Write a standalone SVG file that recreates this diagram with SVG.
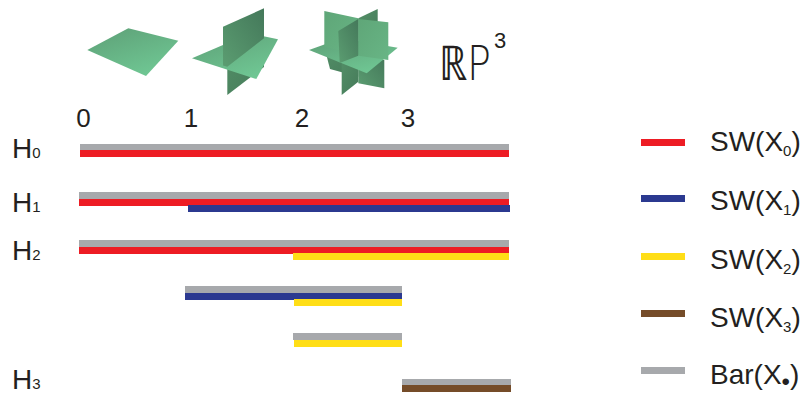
<svg xmlns="http://www.w3.org/2000/svg" width="803" height="394" viewBox="0 0 803 394">
  <style>
    text { font-family: "Liberation Sans", Arial, sans-serif; fill: #231f20; }
    .tick { font-size: 26px; text-anchor: middle; }
    .hlab { font-size: 28px; }
    .sub { font-size: 15px; }
    .leg { font-size: 28px; }
    .gray { fill: #a7a9ac; }
    .red { fill: #ed1c24; }
    .blue { fill: #2b3990; }
    .yellow { fill: #ffde17; }
    .brown { fill: #754c29; }
  </style>
  <defs>
    <linearGradient id="flat" x1="0" y1="0" x2="0.6" y2="1">
      <stop offset="0" stop-color="#5d9f76"/>
      <stop offset="1" stop-color="#6fc693"/>
    </linearGradient>
    <linearGradient id="wall" x1="0" y1="1" x2="1" y2="0">
      <stop offset="0" stop-color="#5b9d71"/>
      <stop offset="1" stop-color="#44785a"/>
    </linearGradient>
    <linearGradient id="wallLight" x1="0" y1="0" x2="1" y2="1">
      <stop offset="0" stop-color="#5fa678"/>
      <stop offset="1" stop-color="#68b585"/>
    </linearGradient>
    <linearGradient id="wallDark" x1="0" y1="0" x2="1" y2="1">
      <stop offset="0" stop-color="#538f67"/>
      <stop offset="1" stop-color="#467b5a"/>
    </linearGradient>
  </defs>

  <!-- one plane -->
  <g id="plane-one">
    <polygon points="87.3,50 128.3,28.3 178.3,40.7 146,76" fill="url(#flat)"/>
  </g>

  <!-- two planes -->
  <g id="plane-two">
    <polygon points="227.3,66.7 264,38.3 264,67 227.3,95" fill="url(#wallDark)"/>
    <polygon points="192,58.3 249.9,33.4 278,39.3 256.3,79" fill="url(#flat)"/>
    <polygon points="223,26.7 264,8.3 264,38.3 227.3,66.7 223,65.5" fill="url(#wall)"/>
  </g>

  <!-- three planes -->
  <g id="plane-three">
    <polygon points="324.3,46.7 358.3,55 358.3,76.7 330,69" fill="url(#wallDark)"/>
    <polygon points="341.7,63.3 358.3,55.7 358.3,81.7 341.7,95" fill="url(#wallDark)"/>
    <polygon points="358.3,55.7 384.3,60 384.3,88.3 358.3,83.3" fill="url(#wall)"/>
    <polygon points="309,50 341.7,38.3 397.7,47.7 366.7,73.3" fill="url(#flat)"/>
    <polygon points="324.3,11 358.3,18.3 358.3,55 324.3,46.7" fill="url(#wallLight)"/>
    <polygon points="358.3,18.3 377.7,9 377.7,51.7 358.3,55" fill="url(#wallDark)"/>
    <polygon points="338.3,31 358.3,19 358.3,55.7 339.7,63" fill="url(#wall)"/>
    <polygon points="358.3,19 388.3,22.3 388.3,60 358.3,55.7" fill="url(#wallLight)"/>
  </g>

  <!-- space label -->
  <g id="space-label">
    <text x="439" y="80"><tspan font-family="DejaVu Sans, sans-serif" font-size="48" font-weight="200" textLength="52" lengthAdjust="spacingAndGlyphs">ℝP</tspan><tspan x="494" y="48" font-size="22">3</tspan></text>
  </g>

  <!-- axis ticks -->
  <g id="axis">
    <text class="tick" x="83.5" y="127">0</text>
    <text class="tick" x="191" y="127">1</text>
    <text class="tick" x="302" y="127">2</text>
    <text class="tick" x="408" y="127">3</text>
  </g>

  <!-- homology row labels -->
  <g id="row-labels">
    <text class="hlab" x="12" y="158">H<tspan class="sub">0</tspan></text>
    <text class="hlab" x="12" y="212">H<tspan class="sub">1</tspan></text>
    <text class="hlab" x="12" y="260">H<tspan class="sub">2</tspan></text>
    <text class="hlab" x="12" y="389">H<tspan class="sub">3</tspan></text>
  </g>

  <!-- bars -->
  <g id="bars">
    <rect class="gray" x="80" y="144" width="429" height="6"/>
    <rect class="red" x="80" y="150" width="429" height="7"/>

    <rect class="gray" x="79" y="192" width="430" height="7"/>
    <rect class="red" x="79" y="199" width="430" height="7"/>
    <rect class="blue" x="188" y="205" width="322" height="7"/>

    <rect class="gray" x="79" y="240" width="430" height="7"/>
    <rect class="red" x="79" y="247" width="430" height="7"/>
    <rect class="yellow" x="293" y="253" width="216" height="7"/>

    <rect class="gray" x="185" y="286" width="217" height="7"/>
    <rect class="blue" x="185" y="293" width="217" height="7"/>
    <rect class="yellow" x="294" y="299" width="108" height="7"/>

    <rect class="gray" x="293" y="333" width="109" height="7"/>
    <rect class="yellow" x="294" y="340" width="108" height="7"/>

    <rect class="gray" x="402" y="379" width="109" height="6"/>
    <rect class="brown" x="402" y="385" width="109" height="7"/>
  </g>

  <!-- legend -->
  <g id="legend">
    <rect class="red" x="641" y="139" width="44" height="7"/>
    <rect class="blue" x="641" y="195" width="44" height="7"/>
    <rect class="yellow" x="641" y="253" width="44" height="7"/>
    <rect class="brown" x="641" y="310" width="44" height="7"/>
    <rect class="gray" x="641" y="367" width="44" height="7"/>
    <text class="leg" x="710" y="151">SW(X<tspan class="sub" dy="5">0</tspan><tspan dy="-5">)</tspan></text>
    <text class="leg" x="710" y="210">SW(X<tspan class="sub" dy="5">1</tspan><tspan dy="-5">)</tspan></text>
    <text class="leg" x="710" y="269">SW(X<tspan class="sub" dy="5">2</tspan><tspan dy="-5">)</tspan></text>
    <text class="leg" x="710" y="327">SW(X<tspan class="sub" dy="5">3</tspan><tspan dy="-5">)</tspan></text>
    <text class="leg" x="710" y="384">Bar(X<tspan font-size="24" dy="6">•</tspan><tspan dy="-6">)</tspan></text>
  </g>
</svg>
